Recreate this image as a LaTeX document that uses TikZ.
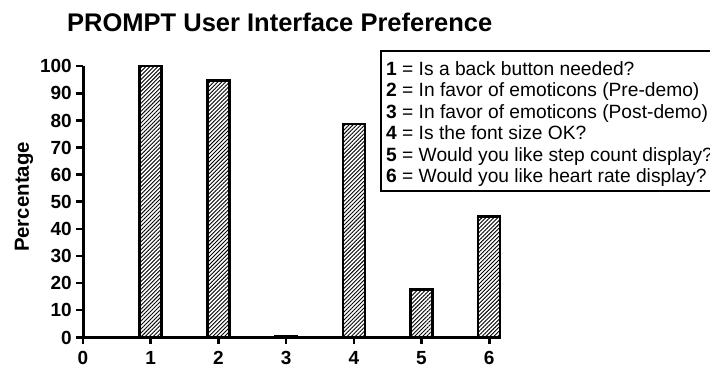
\documentclass[tikz,border=0pt]{standalone}
\usepackage{fontspec}
\setmainfont{Liberation Sans}
\usetikzlibrary{patterns.meta}
\begin{document}
\begin{tikzpicture}[x=1pt,y=-1pt,
  axisline/.style={line width=3pt},
  tickline/.style={line width=2.6pt},
  barbox/.style={draw, line width=2.5pt, pattern={Lines[angle=45,distance=2.8pt,line width=0.9pt]}},
  ticklabel/.style={inner sep=0pt, font=\fontsize{19}{21}\selectfont\bfseries},
  legtext/.style={inner sep=0pt, anchor=base west, font=\fontsize{19.2}{21}\selectfont},
  titletext/.style={inner sep=0pt, anchor=base west, font=\fontsize{25.5}{28}\selectfont\bfseries},
  legbox/.style={draw, line width=2.5pt}]
\useasboundingbox (0,0) rectangle (710,367);
\fill[white] (0,0) rectangle (710,367);

% title
\node[titletext] (title) at (67,31.5) {PROMPT User Interface Preference};

% bars
\foreach \i/\v in {1/100,2/94.6,3/0.5,4/78.6,5/17.7,6/44.6}{
  \path[barbox] ({83+67.7*\i-11},337.3) rectangle ({83+67.7*\i+11},{337.3-\v*2.712});
}

% axes
\coordinate (origin) at (83,337.3);
\coordinate (ytop) at (83,65.5);
\coordinate (xend) at (501,337.3);
\draw[axisline] (ytop) -- (origin) -- (xend);

% y ticks and labels
\foreach \v in {0,10,...,100}{
  \coordinate (yt\v) at (83,{337.3-\v*2.712});
  \draw[tickline] (yt\v) -- ++(-7,0);
  \node[ticklabel, anchor=base east] (yl\v) at (72,{344-\v*2.712}) {\v};
}

% x ticks and labels
\foreach \i in {0,...,6}{
  \coordinate (xt\i) at ({83+67.7*\i},337.3);
  \draw[tickline] (xt\i) -- ++(0,7);
  \node[ticklabel, anchor=base] (xl\i) at ({83+67.7*\i},364.5) {\i};
}

% y axis label
\node[inner sep=0pt, rotate=90, font=\fontsize{20.4}{22}\selectfont\bfseries] (ylab) at (24,197) {Percentage};

% legend
\draw[legbox] (381,51) rectangle (740,191);
\node[legtext] (l1) at (386,75) {\textbf{1} = Is a back button needed?};
\node[legtext] (l2) at (386,96.5) {\textbf{2} = In favor of emoticons (Pre-demo)};
\node[legtext] (l3) at (386,118) {\textbf{3} = In favor of emoticons (Post-demo)};
\node[legtext] (l4) at (386,139.5) {\textbf{4} = Is the font size OK?};
\node[legtext] (l5) at (386,161) {\textbf{5} = Would you like step count display?};
\node[legtext] (l6) at (386,182.5) {\textbf{6} = Would you like heart rate display?};
\end{tikzpicture}
\end{document}
